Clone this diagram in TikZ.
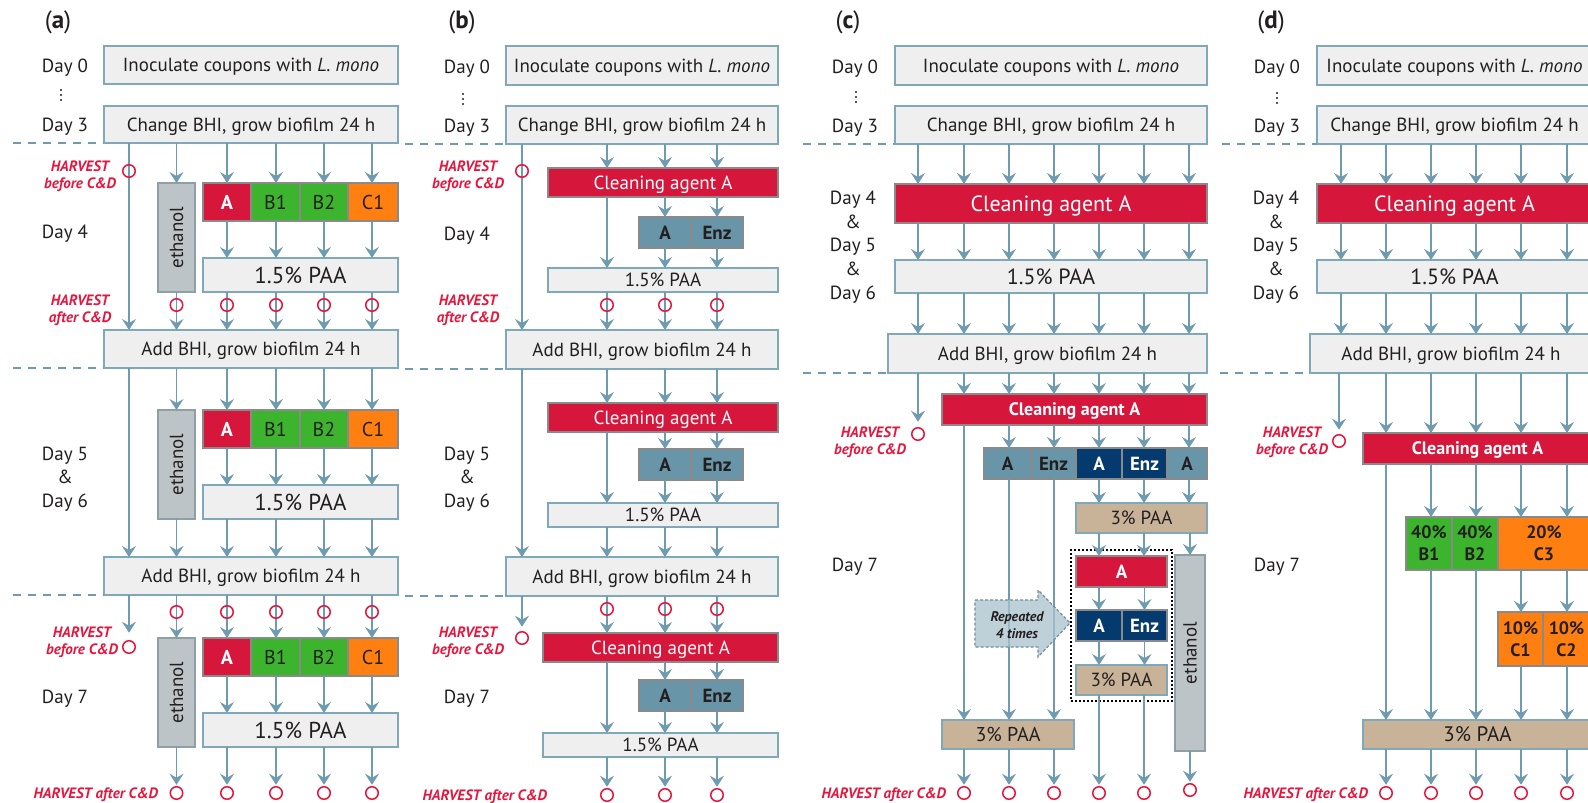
\documentclass[tikz,border=0pt]{standalone}
\usepackage{fontspec}
\setmainfont{PT Sans}
\usetikzlibrary{arrows.meta}
\definecolor{bord}{HTML}{7FA8BB}
\definecolor{arrc}{HTML}{6E9BAF}
\definecolor{boxf}{HTML}{EFEFEF}
\definecolor{txt}{HTML}{231F20}
\definecolor{redA}{HTML}{D7163B}
\definecolor{grnB}{HTML}{3DB42E}
\definecolor{orgC}{HTML}{FF7F10}
\definecolor{stl}{HTML}{6895A7}
\definecolor{nvy}{HTML}{053A6E}
\definecolor{tanP}{HTML}{C9B398}
\definecolor{ethf}{HTML}{BCC4C7}
\definecolor{ethd}{HTML}{8E9FA5}
\definecolor{hvr}{HTML}{E5173F}
\definecolor{segd}{HTML}{8A8A8A}
\definecolor{repf}{HTML}{A9C2CD}
\definecolor{repd}{HTML}{6F8F9D}
\newcommand\fsz[1]{\fontsize{#1}{#1}\selectfont}
\newcommand\bx[7]{\node[#2, minimum width={((#5)-(#3))*1pt}, minimum height={((#6)-(#4))*1pt}, anchor=north west] (#1) at ({#3},{#4}) {#7};}
\tikzset{
 base/.style={inner sep=0pt, outer sep=0pt, line width=1.5pt, font=\fsz{19}, text=txt, align=center, text depth=0pt},
 wbox/.style={base, draw=bord, fill=boxf},
 seg/.style={base, draw=segd},
 redb/.style={seg, fill=redA, text=white},
 grnb/.style={seg, fill=grnB},
 orgb/.style={seg, fill=orgC},
 stlb/.style={seg, fill=stl, font=\fsz{19}\bfseries},
 nvyb/.style={seg, fill=nvy, text=white, font=\fsz{19}\bfseries},
 tanb/.style={base, draw=bord, fill=tanP},
 ethb/.style={base, draw=ethd, fill=ethf},
 dotbox/.style={inner sep=0pt, outer sep=0pt, draw=black, line width=1.5pt, dash pattern=on 2pt off 2pt},
 ar/.style={draw=arrc, line width=1.5pt, -{Stealth[length=11pt,width=14pt,inset=4pt]}},
 dsh/.style={draw=arrc, line width=1.5pt, dash pattern=on 8pt off 7pt},
 hc/.style={circle, draw=hvr, line width=1.5pt, minimum size=12.5pt, inner sep=0pt, outer sep=0pt},
 hv/.style={text=hvr, font=\fontsize{15}{17}\selectfont\bfseries\itshape, align=center, inner sep=0pt, text depth=0pt},
 day/.style={text=txt, font=\fsz{19}, align=center, inner sep=0pt, text depth=0pt},
 daya/.style={day, font=\fontsize{19}{23.5}\selectfont},
 dayc/.style={day, font=\fontsize{19}{23.75}\selectfont},
 plbl/.style={text=txt, font=\fsz{25}, inner sep=0pt},
 pct/.style={font=\fontsize{18}{22}\selectfont\bfseries},
}
\begin{document}
\begin{tikzpicture}[x=1pt,y=-1pt]
\useasboundingbox (0,0) rectangle (1588,803);
\clip (0,0) rectangle (1588,803);
\fill[white] (0,0) rectangle (1588,803);

%%%%%%%%%%%%%%%% PANEL A
\node[plbl] (pa) at (58,22) {(\textbf{a})};
\node[day] (aD0) at (65,66) {Day 0};
\foreach \yy in {90,95,100} \fill[txt] (61,\yy) circle[radius=1.2pt];
\node[day] (aD3) at (65,125) {Day 3};
\node[day] (aD4) at (65,232) {Day 4};
\node[daya] (aD56) at (65,477) {Day 5\\\&\\Day 6};
\node[day] (aD7) at (65,697) {Day 7};
\bx{a0}{wbox}{104}{46}{398}{84}{Inoculate coupons with \textit{L. mono}}
\bx{a3}{wbox}{104}{106}{398}{143}{Change BHI, grow biofilm 24 h}
\bx{aB1}{wbox}{104}{330}{398}{368}{Add BHI, grow biofilm 24 h}
\bx{aB2}{wbox}{104}{557}{398}{595}{Add BHI, grow biofilm 24 h}
\draw[dsh] (13,143) -- (a3.south west);
\draw[dsh] (13,368) -- (aB1.south west);
\draw[dsh] (13,595) -- (aB2.south west);
\foreach \g/\ty in {1/183,2/410,3/638}{
  \bx{aE\g}{ethb}{158}{\ty}{195}{\ty+109}{\rotatebox{90}{ethanol}}
  \bx{aA\g}{redb,font=\fsz{20}\bfseries}{203}{\ty}{251}{\ty+38}{A}
  \bx{aG\g}{grnb,font=\fsz{20}}{251}{\ty}{300}{\ty+38}{B1}
  \bx{aH\g}{grnb,font=\fsz{20}}{300}{\ty}{348}{\ty+38}{B2}
  \bx{aC\g}{orgb,font=\fsz{20}}{348}{\ty}{398}{\ty+38}{C1}
  \bx{aP\g}{wbox,font=\fsz{23}}{203}{\ty+75}{398}{\ty+109}{1.5\% PAA}
  \foreach \bb/\xx in {aA/227,aG/276,aH/324,aC/372}
    \draw[ar] (\bb\g.south -| \xx,0) -- (aP\g.north -| \xx,0);
}
\foreach \bb/\xx in {aA/227,aG/276,aH/324,aC/372}{
  \draw[ar] (a3.south -| \xx,0) -- (\bb1.north -| \xx,0);
  \draw[ar] (aB1.south -| \xx,0) -- (\bb2.north -| \xx,0);
  \draw[ar] (aB2.south -| \xx,0) -- (\bb3.north -| \xx,0);
  \draw[ar] (aP1.south -| \xx,0) -- (aB1.north -| \xx,0);
  \draw[ar] (aP2.south -| \xx,0) -- (aB2.north -| \xx,0);
}
\draw[ar] (a3.south -| aE1.north) -- (aE1.north);
\draw[ar] (aB1.south -| aE2.north) -- (aE2.north);
\draw[ar] (aB2.south -| aE3.north) -- (aE3.north);
\draw[ar] (aE1.south) -- (aB1.north -| aE1.south);
\draw[ar] (aE2.south) -- (aB2.north -| aE2.south);
\draw[ar] (a3.south -| 129,0) -- (aB1.north -| 129,0);
\draw[ar] (aB1.south -| 129,0) -- (aB2.north -| 129,0);
\node[hc] (ah0) at (129,171) {};
\node[hc] (ah7) at (129,647) {};
\draw[ar, shorten >=8pt] (aB2.south -| ah7.north) -- (ah7.north);
\foreach \xx [count=\i] in {176.5,227,276,324,372}{
  \node[hc] (ahm\i) at (\xx,305) {};
  \node[hc] (aht\i) at (\xx,612) {};
  \node[hc] (ahb\i) at (\xx,793) {};
}
\draw[ar, shorten >=2pt] (aE3.south) -- (ahb1.north);
\foreach \i in {2,...,5} \draw[ar, shorten >=2pt] (aP3.south -| ahb\i.north) -- (ahb\i.north);
\node[hv] (aHb1) at (80,175) {HARVEST\\before C\&D};
\node[hv] (aHa1) at (80,309) {HARVEST\\after C\&D};
\node[hv] (aHb3) at (82,641) {HARVEST\\before C\&D};
\node[hv, anchor=east] (aHa3) at (158,793) {HARVEST after C\&D};

%%%%%%%%%%%%%%%% PANEL B
\node[plbl] (pb) at (462,22) {(\textbf{b})};
\node[day] (bD0) at (467,67) {Day 0};
\foreach \yy in {94,99,104} \fill[txt] (463,\yy) circle[radius=1.2pt];
\node[day] (bD3) at (467,126) {Day 3};
\node[day] (bD4) at (467,234) {Day 4};
\node[daya] (bD56) at (467,477) {Day 5\\\&\\Day 6};
\node[day] (bD7) at (467,697) {Day 7};
\bx{b0}{wbox}{506}{46}{778}{85}{Inoculate coupons with \textit{L. mono}}
\bx{b3}{wbox}{506}{106}{778}{144}{Change BHI, grow biofilm 24 h}
\bx{bB1}{wbox}{506}{330}{778}{369}{Add BHI, grow biofilm 24 h}
\bx{bB2}{wbox}{506}{557}{778}{596}{Add BHI, grow biofilm 24 h}
\draw[dsh] (405,144) -- (b3.south west);
\draw[dsh] (405,369) -- (bB1.south west);
\draw[dsh] (405,596) -- (bB2.south west);
\foreach \g/\cy/\ey/\py/\lx in {1/168/217/268/548, 2/403/449/503/548, 3/633/680/733/543}{
  \bx{bC\g}{redb}{\lx}{\cy}{778}{\cy+29}{Cleaning agent A}
  \bx{bA\g}{stlb}{639}{\ey}{691}{\ey+31}{A}
  \bx{bZ\g}{stlb}{691}{\ey}{743}{\ey+31}{Enz}
  \bx{bP\g}{wbox}{\lx}{\py}{778}{\py+24}{1.5\% PAA}
  \draw[ar] (bC\g.south -| 607,0) -- (bP\g.north -| 607,0);
  \draw[ar] (bC\g.south -| bA\g.north) -- (bA\g.north);
  \draw[ar] (bC\g.south -| bZ\g.north) -- (bZ\g.north);
  \draw[ar] (bA\g.south) -- (bP\g.north -| bA\g.south);
  \draw[ar] (bZ\g.south) -- (bP\g.north -| bZ\g.south);
}
\foreach \xx in {607,665,717}{
  \draw[ar] (b3.south -| \xx,0) -- (bC1.north -| \xx,0);
  \draw[ar] (bB1.south -| \xx,0) -- (bC2.north -| \xx,0);
  \draw[ar] (bB2.south -| \xx,0) -- (bC3.north -| \xx,0);
  \draw[ar] (bP1.south -| \xx,0) -- (bB1.north -| \xx,0);
  \draw[ar] (bP2.south -| \xx,0) -- (bB2.north -| \xx,0);
}
\draw[ar] (b3.south -| 522,0) -- (bB1.north -| 522,0);
\draw[ar] (bB1.south -| 522,0) -- (bB2.north -| 522,0);
\node[hc] (bh0) at (522,171) {};
\node[hc] (bh7) at (522,638) {};
\draw[ar, shorten >=5pt] (bB2.south -| bh7.north) -- (bh7.north);
\foreach \xx [count=\i] in {607,665,717}{
  \node[hc] (bhm\i) at (\xx,305) {};
  \node[hc] (bht\i) at (\xx,609) {};
  \node[hc] (bhb\i) at (\xx,795) {};
  \draw[ar, shorten >=2pt] (bP3.south -| bhb\i.north) -- (bhb\i.north);
}
\node[hv] (bHb1) at (468,175) {HARVEST\\before C\&D};
\node[hv] (bHa1) at (468,309) {HARVEST\\after C\&D};
\node[hv] (bHb3) at (468,641) {HARVEST\\before C\&D};
\node[hv, anchor=east] (bHa3) at (547,795) {HARVEST after C\&D};

%%%%%%%%%%%%%%%% PANEL C
\node[plbl] (pc) at (848,22) {(\textbf{c})};
\node[day] (cD0) at (855,67) {Day 0};
\foreach \yy in {92,97,102} \fill[txt] (856,\yy) circle[radius=1.2pt];
\node[day] (cD3) at (855,126) {Day 3};
\node[dayc] (cD456) at (853,245) {Day 4\\\&\\Day 5\\\&\\Day 6};
\node[day] (cD7) at (855,565) {Day 7};
\bx{c0}{wbox}{895}{46}{1207}{85}{Inoculate coupons with \textit{L. mono}}
\bx{c3}{wbox}{895}{106}{1207}{144}{Change BHI, grow biofilm 24 h}
\bx{cCl}{redb,font=\fsz{22}}{895}{184}{1207}{223}{Cleaning agent A}
\bx{cP}{wbox,font=\fsz{22}}{895}{260}{1207}{293}{1.5\% PAA}
\bx{cB}{wbox}{888}{334}{1207}{373}{Add BHI, grow biofilm 24 h}
\draw[dsh] (803,144) -- (c3.south west);
\draw[dsh] (803,373) -- (cB.south west);
\foreach \xx in {918,964,1009,1054,1099,1144,1189}{
  \draw[ar] (c3.south -| \xx,0) -- (cCl.north -| \xx,0);
  \draw[ar] (cCl.south -| \xx,0) -- (cP.north -| \xx,0);
  \draw[ar] (cP.south -| \xx,0) -- (cB.north -| \xx,0);
}
\bx{cCl2}{redb,font=\fsz{18}\bfseries}{942}{394}{1207}{425}{Cleaning agent A}
\bx{cR1}{stlb}{984}{448}{1031}{479}{A}
\bx{cR2}{stlb}{1031}{448}{1076}{479}{Enz}
\bx{cR3}{nvyb}{1076}{448}{1122}{479}{A}
\bx{cR4}{nvyb}{1122}{448}{1167}{479}{Enz}
\bx{cR5}{stlb}{1167}{448}{1207}{479}{A}
\bx{cT1}{tanb}{1076}{503}{1207}{533}{3\% PAA}
\bx{cDot}{dotbox}{1071}{550}{1172}{701}{}
\bx{cRA}{redb,font=\fsz{19}\bfseries}{1076}{556}{1167}{587}{A}
\bx{cN1}{nvyb}{1076}{610}{1122}{641}{A}
\bx{cN2}{nvyb}{1122}{610}{1167}{641}{Enz}
\bx{cT2}{tanb}{1076}{665}{1167}{695}{3\% PAA}
\bx{cE}{ethb}{1175}{555}{1205}{751}{\rotatebox{90}{ethanol}}
\bx{cT3}{tanb,font=\fsz{20}}{942}{720}{1074}{749}{3\% PAA}
\foreach \xx in {964,1009,1054,1099,1144,1189}
  \draw[ar] (cB.south -| \xx,0) -- (cCl2.north -| \xx,0);
\draw[ar] (cCl2.south -| 964,0) -- (cT3.north -| 964,0);
\foreach \xx/\bb in {1009/cR1,1054/cR2,1099/cR3,1144/cR4,1189/cR5}
  \draw[ar] (cCl2.south -| \xx,0) -- (\bb.north -| \xx,0);
\draw[ar] (cR1.south -| 1009,0) -- (cT3.north -| 1009,0);
\draw[ar] (cR2.south -| 1054,0) -- (cT3.north -| 1054,0);
\foreach \xx/\bb in {1099/cR3,1144/cR4,1189/cR5}
  \draw[ar] (\bb.south -| \xx,0) -- (cT1.north -| \xx,0);
\draw[ar] (cT1.south -| 1099,0) -- (cRA.north -| 1099,0);
\draw[ar] (cT1.south -| 1144,0) -- (cRA.north -| 1144,0);
\draw[ar] (cT1.south -| cE.north) -- (cE.north);
\draw[ar] (cRA.south -| cN1.north) -- (cN1.north);
\draw[ar] (cRA.south -| cN2.north) -- (cN2.north);
\draw[ar] (cN1.south) -- (cT2.north -| cN1.south);
\draw[ar] (cN2.south) -- (cT2.north -| cN2.south);
\node[hc] (ch0) at (918,434) {};
\draw[ar, shorten >=6pt] (cB.south -| ch0.north) -- (ch0.north);
\foreach \xx [count=\i] in {964,1009,1054}{
  \node[hc] (chb\i) at (\xx,793) {};
  \draw[ar, shorten >=2pt] (cT3.south -| chb\i.north) -- (chb\i.north);
}
\node[hc] (chb4) at (1099,793) {};
\node[hc] (chb5) at (1144,793) {};
\node[hc] (chb6) at (1190,790) {};
\draw[ar, shorten >=2pt] (cT2.south -| chb4.north) -- (chb4.north);
\draw[ar, shorten >=2pt] (cT2.south -| chb5.north) -- (chb5.north);
\draw[ar, shorten >=2pt] (cE.south) -- (chb6.north);
\filldraw[fill=repf, fill opacity=0.75, draw=repd, line width=1.2pt, dash pattern=on 3pt off 2pt]
  (975,600) -- (1038,600) -- (1038,590) -- (1070,623) -- (1038,657) -- (1038,647) -- (975,647) -- cycle;
\node[text=txt, font=\fontsize{14}{17}\selectfont\bfseries\itshape, align=center, inner sep=0pt, text depth=0pt] (cRep) at (1017,625) {Repeated\\4 times};
\node[hv] (cHb) at (870,441) {HARVEST\\before C\&D};
\node[hv, anchor=east] (cHa) at (946,793) {HARVEST after C\&D};

%%%%%%%%%%%%%%%% PANEL D
\node[plbl] (pd) at (1271,22) {(\textbf{d})};
\node[day] (dD0) at (1277,67) {Day 0};
\foreach \yy in {93,98,103} \fill[txt] (1277,\yy) circle[radius=1.2pt];
\node[day] (dD3) at (1277,126) {Day 3};
\node[dayc] (dD456) at (1276,245) {Day 4\\\&\\Day 5\\\&\\Day 6};
\node[day] (dD7) at (1277,565) {Day 7};
\bx{d0}{wbox}{1317}{46}{1592}{85}{Inoculate coupons with \textit{L. mono}}
\bx{d3}{wbox}{1317}{106}{1592}{144}{Change BHI, grow biofilm 24 h}
\bx{dCl}{redb,font=\fsz{22}}{1317}{184}{1592}{223}{Cleaning agent A}
\bx{dP}{wbox,font=\fsz{22}}{1317}{260}{1592}{293}{1.5\% PAA}
\bx{dB}{wbox}{1310}{334}{1592}{373}{Add BHI, grow biofilm 24 h}
\draw[dsh] (1222,144) -- (d3.south west);
\draw[dsh] (1220,373) -- (dB.south west);
\foreach \xx in {1341,1386,1431,1476,1521,1567}{
  \draw[ar] (d3.south -| \xx,0) -- (dCl.north -| \xx,0);
  \draw[ar] (dCl.south -| \xx,0) -- (dP.north -| \xx,0);
  \draw[ar] (dP.south -| \xx,0) -- (dB.north -| \xx,0);
}
\bx{dCl2}{redb,font=\fsz{18}\bfseries}{1363}{433}{1592}{464}{Cleaning agent A}
\bx{dB1}{grnb,pct}{1406}{517}{1452}{570}{40\%\\B1}
\bx{dB2}{grnb,pct}{1452}{517}{1498}{570}{40\%\\B2}
\bx{dC3}{orgb,pct}{1498}{517}{1590}{570}{20\%\\C3}
\bx{dC1}{orgb,pct}{1498}{612}{1543}{666}{10\%\\C1}
\bx{dC2}{orgb,pct}{1543}{612}{1590}{666}{10\%\\C2}
\bx{dT}{tanb,font=\fsz{21}}{1363}{720}{1592}{749}{3\% PAA}
\foreach \xx in {1386,1431,1476,1521,1567}
  \draw[ar] (dB.south -| \xx,0) -- (dCl2.north -| \xx,0);
\draw[ar] (dCl2.south -| 1386,0) -- (dT.north -| 1386,0);
\draw[ar] (dCl2.south -| 1431,0) -- (dB1.north -| 1431,0);
\draw[ar] (dCl2.south -| 1476,0) -- (dB2.north -| 1476,0);
\draw[ar] (dCl2.south -| 1521,0) -- (dC3.north -| 1521,0);
\draw[ar] (dCl2.south -| 1567,0) -- (dC3.north -| 1567,0);
\draw[ar] (dB1.south -| 1431,0) -- (dT.north -| 1431,0);
\draw[ar] (dB2.south -| 1476,0) -- (dT.north -| 1476,0);
\draw[ar] (dC3.south -| 1521,0) -- (dC1.north -| 1521,0);
\draw[ar] (dC3.south -| 1567,0) -- (dC2.north -| 1567,0);
\draw[ar] (dC1.south -| 1521,0) -- (dT.north -| 1521,0);
\draw[ar] (dC2.south -| 1567,0) -- (dT.north -| 1567,0);
\node[hc] (dh0) at (1339,441) {};
\draw[ar, shorten >=5pt] (dB.south -| dh0.north) -- (dh0.north);
\foreach \xx [count=\i] in {1386,1431,1476,1521,1567}{
  \node[hc] (dhb\i) at (\xx,793) {};
  \draw[ar, shorten >=2pt] (dT.south -| dhb\i.north) -- (dhb\i.north);
}
\node[hv] (dHb) at (1292,441) {HARVEST\\before C\&D};
\node[hv, anchor=east] (dHa) at (1368,793) {HARVEST after C\&D};
\end{tikzpicture}
\end{document}
